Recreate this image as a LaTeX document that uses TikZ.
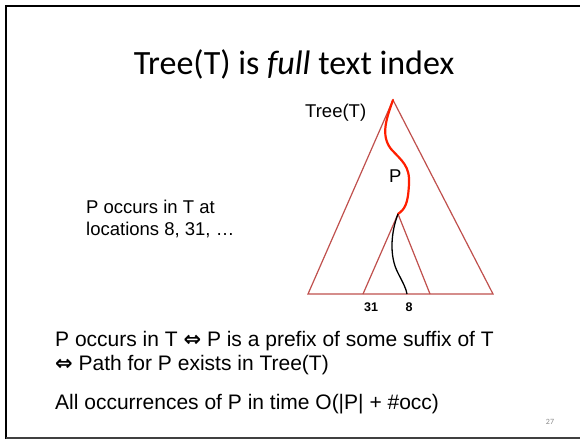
\documentclass[tikz,border=0pt]{standalone}
\usepackage{fontspec}
\setmainfont{Liberation Sans}
\newfontfamily\titlefont{Carlito}
\newfontfamily\symfont{DejaVu Sans Bold}
\definecolor{tri}{RGB}{192,80,77}
\definecolor{pathred}{RGB}{255,30,0}
\definecolor{pagenum}{RGB}{140,140,140}
\newcommand{\iffsym}{{\symfont\char"21D4}}
\tikzset{
  tribox/.style={draw=tri, line width=1.2pt, line join=miter},
  body/.style={font=\fontsize{21}{25}\selectfont, anchor=base west, inner sep=0pt},
  small/.style={font=\fontsize{18.5}{22}\selectfont, anchor=base west, inner sep=0pt, align=left},
  leaf/.style={font=\fontsize{12.5}{14}\selectfont\bfseries, anchor=base, inner sep=0pt},
}
\begin{document}
\begin{tikzpicture}[x=1pt,y=-1pt]
\useasboundingbox (0,0) rectangle (580,439);
\fill[white] (0,0) rectangle (580,439);
% slide frame
\draw[black, line width=2.4pt] (6,439) -- (6,6) -- (580,6);
\draw[black!75, line width=2.2pt] (6,438) -- (580,438);
% title
\node[font=\titlefont\fontsize{34}{40}\selectfont, anchor=base, inner sep=0pt] (title) at (294,74) {Tree(T) is \textit{full} text index};
% triangles
\coordinate (apex) at (393,100);
\coordinate (bl) at (308,294);
\coordinate (br) at (493,294);
\coordinate (iapex) at (398,214);
\coordinate (ibl) at (363,294);
\coordinate (ibr) at (430,294);
\draw[tribox] (apex) -- (bl) -- (br) -- cycle;
\draw[tribox] (ibl) -- (iapex) -- (ibr);
% paths
\draw[pathred, line width=2.2pt, line cap=round] (apex) .. controls (387,117) and (380,135) .. (391,149)
  .. controls (402,161) and (410,166) .. (409,184)
  .. controls (408,204) and (405,209) .. (iapex);
\coordinate (leafeight) at (407,294);
\draw[black, line width=1.3pt] (iapex) .. controls (391,232) and (389,256) .. (398,273)
  .. controls (403,283) and (406,288) .. (leafeight);
% labels
\node[small] (treelabel) at (305,117) {Tree(T)};
\node[small] (plabel) at (389,182) {P};
\node[leaf] (l31) at (371,311) {31};
\node[leaf] (l8) at (409,311) {8};
\node[small] (occ) at (86,213) {P occurs in T at};
\node[small] (loc) at (86,235) {locations 8, 31, \ldots};
% body text
\node[body] (line1) at (55,346) {P occurs in T \iffsym\ P is a prefix of some suffix of T};
\node[body] (line2) at (55,370) {\iffsym\ Path for P exists in Tree(T)};
\node[body] (line3) at (55,409) {All occurrences of P in time O(|P| + \#occ)};
\node[font=\titlefont\fontsize{8}{9}\selectfont, text=pagenum, anchor=base, inner sep=0pt] (num) at (550,424) {27};
\end{tikzpicture}
\end{document}
